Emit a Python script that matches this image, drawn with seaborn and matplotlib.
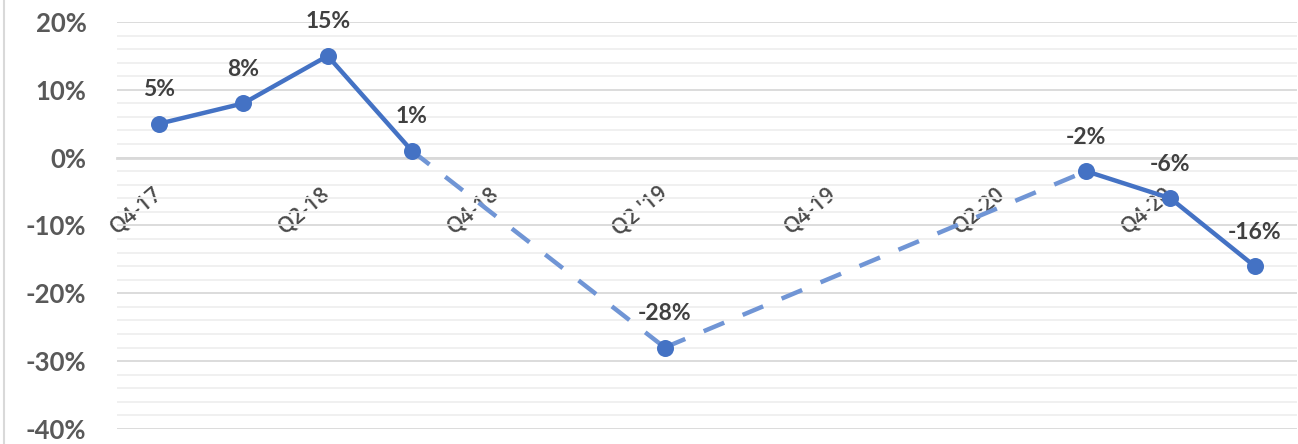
import numpy as np
import pandas as pd
import matplotlib
matplotlib.use('Agg')
import matplotlib.pyplot as plt
from matplotlib.lines import Line2D
from matplotlib.ticker import MultipleLocator, FuncFormatter
import seaborn as sns

quarters = ['Q4-17', 'Q1-18', 'Q2-18', 'Q3-18', 'Q4-18', 'Q1-19', "Q2 '19",
            'Q3-19', 'Q4-19', 'Q1-20', 'Q2-20', 'Q3-20', 'Q4-20', 'Q1-21']
growth = [5, 8, 15, 1, None, None, -28, None, None, None, None, -2, -6, -16]
shown_labels = ['Q4-17', 'Q2-18', 'Q4-18', "Q2 '19", 'Q4-19', 'Q2-20', 'Q4-20']

sns.set_style('white')
plt.rcParams['font.family'] = ['Lato', 'DejaVu Sans']

df = pd.DataFrame({'quarter': quarters, 'growth': growth})
df['pos'] = np.arange(len(df))
df['growth'] = df['growth'].astype(float)
valid = df.dropna().reset_index(drop=True)
# consecutive runs are drawn solid, jumps over missing quarters dashed
valid['run'] = (valid['pos'].diff() != 1).cumsum()

blue = '#4472C4'
light_blue = '#7095D5'

fig = plt.figure(figsize=(12.98, 4.44), dpi=100)
ax = fig.add_axes([0.0901, 0.034, 0.909, 0.9165])
ax.spines['bottom'].set_position(('data', 0))

# dashed bridges over missing quarters
for i in range(len(valid) - 1):
    if valid.loc[i + 1, 'pos'] - valid.loc[i, 'pos'] > 1:
        seg = valid.iloc[i:i + 2]
        sns.lineplot(x='pos', y='growth', data=seg, ax=ax, color=light_blue,
                     linewidth=3.2, zorder=3)
        ax.lines[-1].set_dashes([5, 4.5])

for r, seg in valid.groupby('run'):
    sns.lineplot(x='pos', y='growth', data=seg, ax=ax, color=blue,
                 linewidth=3.2, zorder=4)
sns.scatterplot(x='pos', y='growth', data=valid, ax=ax, color=blue, s=150,
                edgecolor=blue, linewidth=0, zorder=5)

for _, row in valid.iterrows():
    ax.annotate(f"{row['growth']:.0f}%", (row['pos'], row['growth']),
                xytext=(0, 34), textcoords='offset pixels', ha='center',
                va='center', fontsize=16.5, fontweight='bold', color='#404040',
                zorder=6)

ax.set_xlim(-0.5, len(quarters) - 0.5)
ax.set_ylim(-40, 20)
ax.yaxis.set_major_locator(MultipleLocator(10))
ax.yaxis.set_minor_locator(MultipleLocator(2))
ax.yaxis.set_major_formatter(FuncFormatter(lambda v, p: f'{v:.0f}%'))
ax.grid(which='major', axis='y', color='#d9d9d9', linewidth=1.3)
ax.grid(which='minor', axis='y', color='#efefef', linewidth=1.3)
ax.set_axisbelow(True)
ax.tick_params(axis='y', which='both', length=0, pad=22, labelsize=18.5,
               labelcolor='#595959')
for t in ax.get_yticklabels():
    t.set_fontweight('bold')

tick_pos = np.arange(-0.5, len(quarters), 0.5)
tick_lab = [quarters[int(p)] if p == int(p) and quarters[int(p)] in shown_labels else ''
            for p in tick_pos]
ax.set_xticks(tick_pos)
ax.tick_params(axis='x', direction='inout', length=12, width=1.3,
               color='#d9d9d9', pad=18, labelsize=15.5, labelcolor='#4a4a4a')
ax.set_xticklabels(tick_lab, rotation=40, ha='right', va='center',
                   rotation_mode='anchor', family='Open Sans',
                   fontweight='semibold')

for s in ['top', 'right', 'left']:
    ax.spines[s].set_visible(False)
ax.spines['bottom'].set_color('#d9d9d9')
ax.spines['bottom'].set_linewidth(2)
ax.spines['bottom'].set_zorder(2)
ax.set_xlabel('')
ax.set_ylabel('')

fig.add_artist(Line2D([0.003, 0.003], [0, 1], color='#d9d9d9', linewidth=1.5))

fig.savefig('out.png', dpi=100)
